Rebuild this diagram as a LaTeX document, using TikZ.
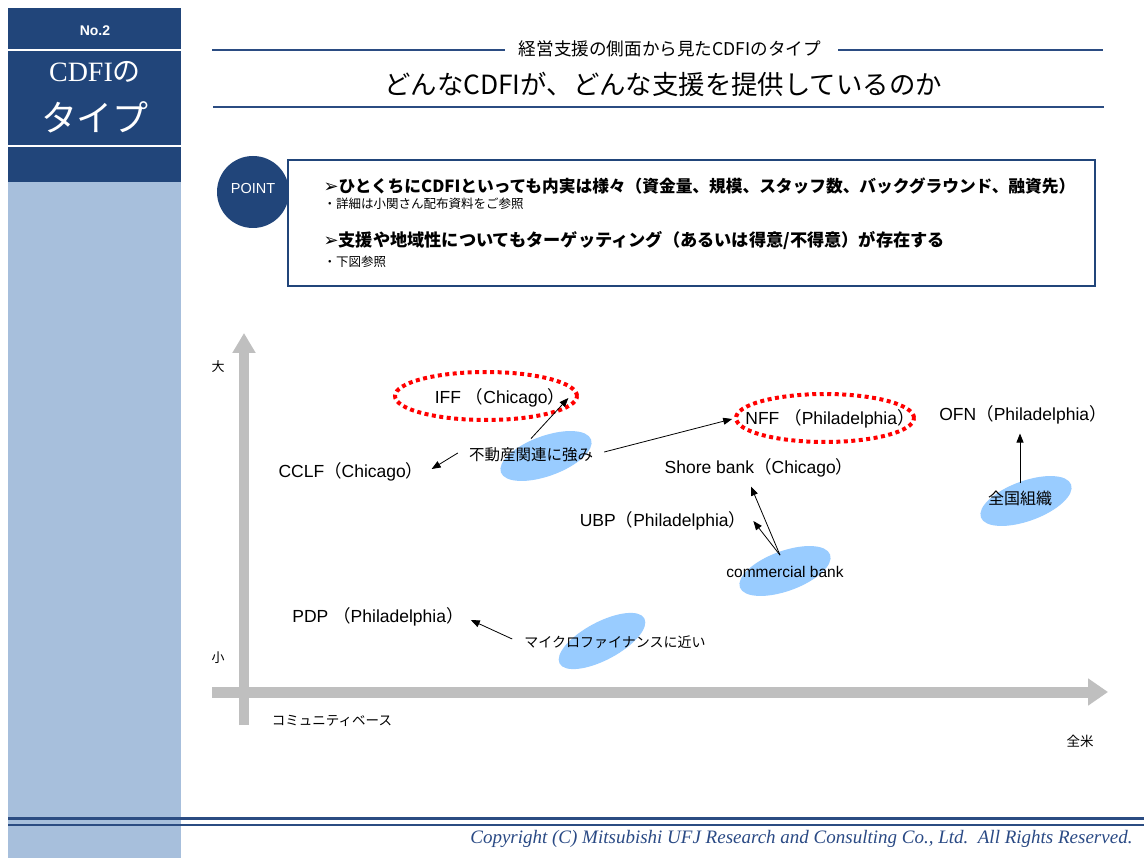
\documentclass[tikz,border=0pt]{standalone}
\usepackage{fontspec}
\setmainfont{Liberation Sans}
\newfontfamily\jp{Noto Sans CJK JP}
\newfontfamily\sym{DejaVu Sans}
\newfontfamily\tms{Liberation Serif}
\usetikzlibrary{arrows.meta}
\definecolor{navy}{HTML}{21457A}
\definecolor{sidelight}{HTML}{A7BFDC}
\definecolor{ruleblue}{HTML}{2B4C82}
\definecolor{blobblue}{HTML}{99CCFF}
\definecolor{axisgray}{HTML}{BFBFBF}
\definecolor{copyblue}{HTML}{2A4A85}
\newcommand{\lp}{{\jp （}}
\newcommand{\rp}{{\jp ）}}
\newcommand{\fs}[1]{\fontsize{#1}{#1}\selectfont}

\begin{document}
\begin{tikzpicture}[x=1pt,y=-1pt,
    lbl/.style={inner sep=0pt,font=\fs{17.5}},
    jlbl/.style={inner sep=0pt,font=\jp\fs{15.5}},
    arr/.style={-{Triangle[length=9pt,width=7pt]},line width=0.8pt},
    reddot/.style={draw=red,line width=4pt,dash pattern=on 4pt off 3.5pt},
    blob/.style={fill=blobblue},
    gaxis/.style={draw=axisgray,line cap=butt}]
        \useasboundingbox (0,0) rectangle (1144,858);
        \fill[white] (0,0) rectangle (1144,858);
        \fill[sidelight] (8,182) rectangle (181,858);
        \fill[navy] (8,8) rectangle (181,182);
        \draw[white,line width=2pt] (8,50) -- (181,50) (8,146) -- (181,146);
        \node[text=white,font=\bfseries\fs{14}] (no) at (95,31) {No.2};
        \node[text=white,font=\fs{28}] (side1) at (95,72) {{\tms CDFI}{\jp の}};
        \node[text=white,font=\jp\fs{36}] (side2) at (95,117) {タイプ};

        \draw[ruleblue,line width=2pt] (212,50) -- (505,50) (838,50) -- (1103,50);
        \node[font=\jp\fs{17.6}] (sub) at (670,49) {経営支援の側面から見たCDFIのタイプ};
        \node[font=\jp\fs{26.4}] (title) at (663,84) {どんなCDFIが、どんな支援を提供しているのか};
        \draw[ruleblue,line width=2pt] (213,107) -- (1104,107);

        \fill[navy] (253,192) circle[radius=36pt];
        \node[text=white,font=\fs{14.5}] (point) at (253,189) {POINT};
        \draw[navy,line width=2.5pt,fill=white] (288,160) rectangle (1095,286);
        \node[anchor=west,font=\jp\bfseries\fs{16.7}] (p1) at (320,186) {{\sym\bfseries\fs{18}➢}ひとくちにCDFIといっても内実は様々（資金量、規模、スタッフ数、バックグラウンド、融資先）};
        \node[anchor=west,font=\jp\fs{12.5}] (p1b) at (320,204) {・詳細は小関さん配布資料をご参照};
        \node[anchor=west,font=\jp\bfseries\fs{17.2}] (p2) at (320,241) {{\sym\bfseries\fs{18}➢}支援や地域性についてもターゲッティング（あるいは得意/不得意）が存在する};
        \node[anchor=west,font=\jp\fs{12.5}] (p2b) at (320,262) {・下図参照};

        \draw[gaxis,line width=10pt,-{Triangle[length=20pt,width=22pt]}] (244,725) -- (244,333);
        \draw[gaxis,line width=11pt,-{Triangle[length=20pt,width=26pt]}] (212,692) -- (1108,692);
        \node[font=\jp\fs{13}] (big) at (218,367) {大};
        \node[font=\jp\fs{13}] (small) at (218,658) {小};
        \node[font=\jp\fs{13.5}] (community) at (332,721) {コミュニティベース};
        \node[font=\jp\fs{13.5}] (nation) at (1080,741) {全米};

        \fill[blob,rotate around={20:(546,456)}] (546,456) ellipse [x radius=48pt,y radius=20pt];
        \fill[blob,rotate around={20:(785,571)}] (785,571) ellipse [x radius=48pt,y radius=20pt];
        \fill[blob,rotate around={20:(1026,501)}] (1026,501) ellipse [x radius=48pt,y radius=20pt];
        \fill[blob,rotate around={28:(602,641)}] (602,641) ellipse [x radius=48pt,y radius=19pt];
        \draw[reddot] (486,396) ellipse [x radius=91pt,y radius=24pt];
        \draw[reddot] (825,418) ellipse [x radius=89pt,y radius=24pt];

        \node[lbl] (iff) at (500,398) {IFF \lp Chicago\rp};
        \node[lbl] (nff) at (830,419) {NFF \lp Philadelphia\rp};
        \node[lbl] (ofn) at (1023,415) {OFN\lp Philadelphia\rp};
        \node[lbl] (cclf) at (351,472) {CCLF\lp Chicago\rp};
        \node[lbl] (shore) at (759,468) {Shore bank\lp Chicago\rp};
        \node[lbl] (ubp) at (663,521) {UBP\lp Philadelphia\rp};
        \node[lbl] (pdp) at (378,617) {PDP \lp Philadelphia\rp};

        \node[jlbl] (fudosan) at (531,455) {不動産関連に強み};
        \node[inner sep=0pt,font=\fs{15.5}] (cbank) at (785,572) {commercial bank};
        \node[jlbl,font=\jp\fs{16}] (zenkoku) at (1020,498) {全国組織};
        \node[jlbl,font=\jp\fs{14}] (micro) at (615,642) {マイクロファイナンスに近い};

        \draw[arr] ([yshift=9pt]fudosan.north) -- ([xshift=3pt]iff.east);
        \draw[arr] ([xshift=-11pt,yshift=2pt]fudosan.west) -- ([xshift=8pt,yshift=3pt]cclf.east);
        \draw[arr] ([xshift=11pt,yshift=3pt]fudosan.east) -- ([xshift=-13pt]nff.west);
        \draw[arr] ([xshift=-5pt,yshift=11pt]cbank.north) -- ([xshift=-8pt,yshift=-9pt]shore.south);
        \draw[arr] ([xshift=-5pt,yshift=11pt]cbank.north) -- ([xshift=7pt]ubp.east);
        \draw[arr] ([yshift=7pt]zenkoku.north) -- ([xshift=-3pt,yshift=-9pt]ofn.south);
        \draw[arr] ([xshift=-12pt,yshift=3pt]micro.west) -- ([xshift=7pt,yshift=-3pt]pdp.east);

        \draw[ruleblue,line width=3pt] (8,818) -- (1144,818);
        \draw[ruleblue,line width=1.5pt] (8,825) -- (1144,825);
        \node[anchor=east,text=copyblue,font=\tms\itshape\fs{19}] (copy) at (1136,839) {Copyright (C) Mitsubishi UFJ Research and Consulting Co., Ltd.\ \ All Rights Reserved.};
    \end{tikzpicture}
\end{document}
